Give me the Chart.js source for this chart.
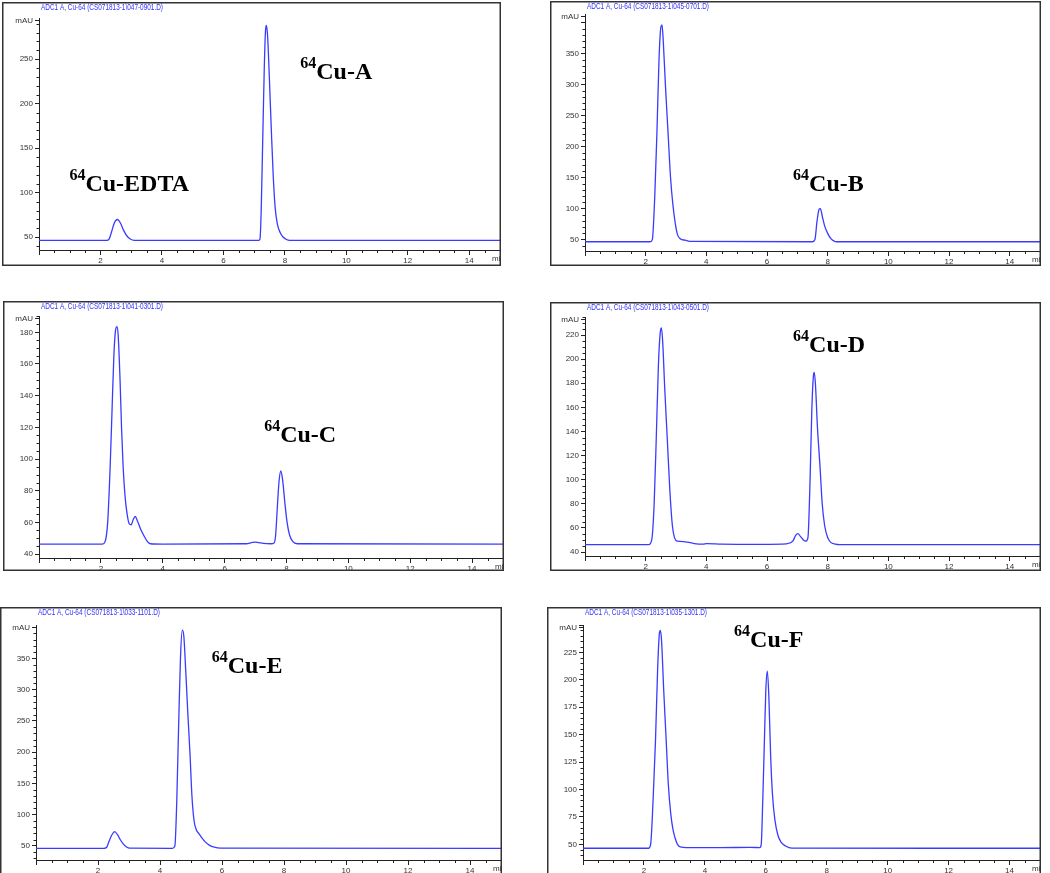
<!DOCTYPE html>
<html>
<head>
<meta charset="utf-8">
<script src="https://cdn.jsdelivr.net/npm/chart.js@4"></script>
<style>
html, body { margin:0; padding:0; background:#fff; width:1050px; height:873px; overflow:hidden; }
canvas { position:absolute; }
</style>
</head>
<body>
<canvas id="chartA"></canvas>
<canvas id="chartB"></canvas>
<canvas id="chartC"></canvas>
<canvas id="chartD"></canvas>
<canvas id="chartE"></canvas>
<canvas id="chartF"></canvas>
<script>
// retention time (min) and detector signal (mAU)
const timesA = [0, 2.2, 2.28, 2.36, 2.45, 2.55, 2.65, 2.75, 2.85, 2.97, 3.1, 7.15, 7.19, 7.23, 7.28, 7.33, 7.37, 7.4, 7.44, 7.5, 7.56, 7.62, 7.68, 7.75, 7.85, 7.95, 8.05, 8.15, 15];
const mauA   = [46.5, 46.5, 48, 56, 66, 70, 66, 58, 52, 48, 46.5, 46.5, 48, 80, 160, 240, 282, 288, 275, 225, 170, 120, 85, 66, 55, 50, 47.5, 46.5, 46.5];

const timesB = [0, 2.15, 2.22, 2.3, 2.37, 2.44, 2.5, 2.54, 2.58, 2.65, 2.74, 2.82, 2.9, 2.98, 3.05, 3.15, 3.3, 3.45, 7.5, 7.58, 7.65, 7.72, 7.76, 7.82, 7.9, 8.0, 8.1, 8.2, 8.3, 15];
const mauB   = [46.5, 46.5, 50, 120, 220, 340, 392, 396, 370, 300, 220, 150, 105, 75, 58, 51, 49, 47, 46.5, 50, 80, 99, 100, 88, 72, 60, 52, 48, 46.5, 46.5];

const timesC = [0, 2.05, 2.14, 2.22, 2.3, 2.36, 2.42, 2.48, 2.52, 2.56, 2.62, 2.67, 2.72, 2.78, 2.85, 2.92, 2.98, 3.05, 3.11, 3.18, 3.28, 3.38, 3.5, 3.6, 4.0, 6.7, 6.9, 7.0, 7.1, 7.5, 7.6, 7.65, 7.7, 7.76, 7.82, 7.88, 7.95, 8.02, 8.1, 8.2, 8.35, 15];
const mauC   = [46.3, 46.3, 48, 60, 95, 130, 165, 182, 183.5, 178, 150, 119, 95, 77, 65, 59, 58.5, 62, 63.7, 61, 56, 52, 48, 46.5, 46.3, 46.5, 47.3, 47.5, 47.2, 46.5, 47, 52, 68, 86, 92.5, 86, 72, 60, 52, 48, 46.5, 46.3];

const timesD = [0, 2.1, 2.2, 2.28, 2.35, 2.42, 2.48, 2.52, 2.56, 2.63, 2.72, 2.8, 2.88, 2.95, 3.05, 3.3, 3.6, 3.9, 4.0, 4.5, 5.5, 6.5, 6.75, 6.85, 6.95, 7.02, 7.1, 7.2, 7.28, 7.35, 7.42, 7.48, 7.53, 7.56, 7.6, 7.66, 7.75, 7.82, 7.9, 8.0, 8.1, 8.25, 8.4, 15];
const mauD   = [46.1, 46.1, 50, 80, 135, 195, 222, 226, 215, 175, 130, 90, 62, 52, 49, 48.5, 47, 46.5, 47, 46.6, 46.3, 46.5, 47.5, 49, 54, 55.3, 53, 50, 49, 52, 100, 160, 186, 189, 178, 145, 110, 80, 62, 52, 48, 46.5, 46.1, 46.1];

const timesE = [0, 2.2, 2.28, 2.36, 2.45, 2.54, 2.63, 2.72, 2.82, 2.92, 3.02, 4.4, 4.48, 4.54, 4.6, 4.66, 4.72, 4.77, 4.83, 4.9, 4.97, 5.03, 5.1, 5.17, 5.25, 5.35, 5.45, 5.6, 5.75, 5.95, 15];
const mauE   = [46.3, 46.3, 48, 58, 68, 72.9, 68, 60, 53, 48.5, 46.5, 46.3, 50, 120, 240, 350, 395, 385, 330, 260, 195, 130, 90, 76, 70, 63, 57, 51, 48, 46.5, 46.3];

const timesF = [0, 2.15, 2.22, 2.3, 2.38, 2.45, 2.51, 2.54, 2.58, 2.65, 2.73, 2.8, 2.88, 2.95, 3.02, 3.1, 3.22, 3.6, 4.5, 5.5, 5.8, 5.85, 5.9, 5.95, 6.0, 6.05, 6.1, 6.16, 6.22, 6.3, 6.4, 6.5, 6.65, 6.85, 15];
const mauF   = [46.4, 46.4, 50, 90, 145, 210, 243, 245, 235, 190, 145, 105, 78, 64, 56, 50, 47.5, 47, 47, 47.2, 47, 50, 90, 140, 190, 208, 185, 130, 95, 72, 58, 52, 48.5, 46.5, 46.4];

const titles = [
  'ADC1 A, Cu-64 (CS071813-1\\047-0901.D)',
  'ADC1 A, Cu-64 (CS071813-1\\045-0701.D)',
  'ADC1 A, Cu-64 (CS071813-1\\041-0301.D)',
  'ADC1 A, Cu-64 (CS071813-1\\043-0501.D)',
  'ADC1 A, Cu-64 (CS071813-1\\033-1101.D)',
  'ADC1 A, Cu-64 (CS071813-1\\035-1301.D)'
];

// peak labels: [text, retention time, mAU] of the label's start / baseline
const labelsA = [['Cu-A', 8.5, 228], ['Cu-EDTA', 0.99, 102]];
const labelsB = [['Cu-B', 6.86, 129]];
const labelsC = [['Cu-C', 7.28, 111]];
const labelsD = [['Cu-D', 6.86, 206]];
const labelsE = [['Cu-E', 5.67, 326]];
const labelsF = [['Cu-F', 4.96, 230]];

const lineBlue = '#3b3bff';
const axisCol = '#222';
const tickFont = { family: 'Liberation Sans', size: 8 };

// layout of each panel
const panels = [
  { id:'chartA', left:2,   top:2,   w:499, h:264, yW:37, padTop:16, xH:16, yMin:35.7, yMax:296.4, major:50, minor:10, hideAbove:Infinity, times:timesA, mau:mauA, title:titles[0], labels:labelsA },
  { id:'chartB', left:550, top:1,   w:491, h:265, yW:35, padTop:13, xH:15, yMin:31.6, yMax:413.4, major:50, minor:10, hideAbove:380, times:timesB, mau:mauB, title:titles[1], labels:labelsB },
  { id:'chartC', left:3,   top:301, w:501, h:270, yW:36, padTop:15, xH:13, yMin:37.5, yMax:190.3, major:20, minor:5,  hideAbove:Infinity, times:timesC, mau:mauC, title:titles[2], labels:labelsC },
  { id:'chartD', left:550, top:302, w:491, h:269, yW:35, padTop:15, xH:15, yMin:36.7, yMax:235.0, major:20, minor:5,  hideAbove:Infinity, times:timesD, mau:mauD, title:titles[3], labels:labelsD },
  { id:'chartE', left:0,   top:607, w:502, h:280, yW:36, padTop:18, xH:27, yMin:27.6, yMax:403.3, major:50, minor:10, hideAbove:380, times:timesE, mau:mauE, title:titles[4], labels:labelsE },
  { id:'chartF', left:547, top:607, w:494, h:280, yW:36, padTop:18, xH:27, yMin:35.7, yMax:250.0, major:25, minor:5,  hideAbove:240, times:timesF, mau:mauF, title:titles[5], labels:labelsF }
];

const chromPlugin = {
  id: 'chrom',
  beforeDraw(chart) {
    const c = chart.ctx;
    c.save();
    c.fillStyle = '#fff';
    c.fillRect(0, 0, chart.width, chart.height);
    c.restore();
  },
  afterDraw(chart) {
    const p = chart.config.options.plugins.chrom;
    const c = chart.ctx;
    const area = chart.chartArea;
    const xs = chart.scales.x, ys = chart.scales.y;
    c.save();
    // frame
    c.strokeStyle = '#333';
    c.lineWidth = 1.5;
    c.strokeRect(0.75, 0.75, chart.width - 1.5, chart.height - 1.5);
    // minor ticks
    c.strokeStyle = axisCol;
    c.lineWidth = 1;
    c.beginPath();
    for (let v = 0.5; v < 15; v += 0.5) {
      if (v % 2 === 0) continue;
      const px = Math.round(xs.getPixelForValue(v)) + 0.5;
      c.moveTo(px, area.bottom);
      c.lineTo(px, area.bottom + 3);
    }
    const start = Math.ceil(p.yMin / p.minor) * p.minor;
    for (let v = start; v <= p.yMax; v += p.minor) {
      if (v % p.major === 0) continue;
      const py = Math.round(ys.getPixelForValue(v)) + 0.5;
      c.moveTo(area.left, py);
      c.lineTo(area.left - 2.5, py);
    }
    // tick at the top of the y axis for the unit
    c.moveTo(area.left, area.top + 2.5);
    c.lineTo(area.left - 4, area.top + 2.5);
    c.stroke();
    // units
    c.fillStyle = '#333';
    c.font = '8px "Liberation Sans"';
    c.textBaseline = 'middle';
    c.textAlign = 'right';
    c.fillText('mAU', area.left - 6, area.top + 3);
    c.textAlign = 'left';
    c.textBaseline = 'top';
    c.fillText('min', area.right - 8, area.bottom + 5);
    // title, condensed like the instrument print-out
    c.fillStyle = '#3030ff';
    c.textBaseline = 'middle';
    c.font = '9px "Liberation Sans"';
    const tw = c.measureText(p.title).width;
    c.save();
    c.translate(area.left + 2, 6);
    c.scale(122 / tw, 1);
    c.fillText(p.title, 0, 0);
    c.restore();
    // peak labels
    c.fillStyle = '#000';
    c.textBaseline = 'alphabetic';
    p.labels.forEach(([txt, t, v]) => {
      const x = xs.getPixelForValue(t);
      const y = ys.getPixelForValue(v);
      c.font = 'bold 16px "Liberation Serif"';
      c.fillText('64', x, y - 11);
      const w = c.measureText('64').width;
      c.font = 'bold 24px "Liberation Serif"';
      c.fillText(txt, x + w, y);
    });
    c.restore();
  }
};

panels.forEach(p => {
  const el = document.getElementById(p.id);
  el.width = p.w;
  el.height = p.h;
  el.style.left = p.left + 'px';
  el.style.top = p.top + 'px';
  new Chart(el, {
    type: 'line',
    data: {
      datasets: [{
        data: p.times.map((t, i) => ({ x: t, y: p.mau[i] })),
        borderColor: lineBlue,
        borderWidth: 1.3,
        pointRadius: 0,
        fill: false,
        cubicInterpolationMode: 'monotone'
      }]
    },
    options: {
      responsive: false,
      animation: false,
      devicePixelRatio: 1,
      layout: { padding: { left: 0, right: 1, top: p.padTop, bottom: 0 } },
      plugins: {
        legend: { display: false },
        tooltip: { enabled: false },
        chrom: { title: p.title, labels: p.labels, yMin: p.yMin, yMax: p.yMax, major: p.major, minor: p.minor }
      },
      scales: {
        x: {
          type: 'linear', min: 0, max: 15,
          afterFit: s => { s.height = p.xH; },
          ticks: { stepSize: 2, includeBounds: false, autoSkip: false, maxRotation: 0, padding: 1, color: '#333', font: tickFont,
                   callback: v => (v === 0 ? '' : v) },
          grid: { drawOnChartArea: false, tickLength: 5, color: axisCol },
          border: { color: axisCol, width: 1 }
        },
        y: {
          type: 'linear', min: p.yMin, max: p.yMax,
          afterFit: s => { s.width = p.yW; },
          ticks: { stepSize: p.major, includeBounds: false, autoSkip: false, padding: 2, color: '#333', font: tickFont,
                   callback: v => (v > p.hideAbove ? '' : v) },
          grid: { drawOnChartArea: false, tickLength: 4, color: axisCol },
          border: { color: axisCol, width: 1 }
        }
      }
    },
    plugins: [chromPlugin]
  });
});
</script>
</body>
</html>
